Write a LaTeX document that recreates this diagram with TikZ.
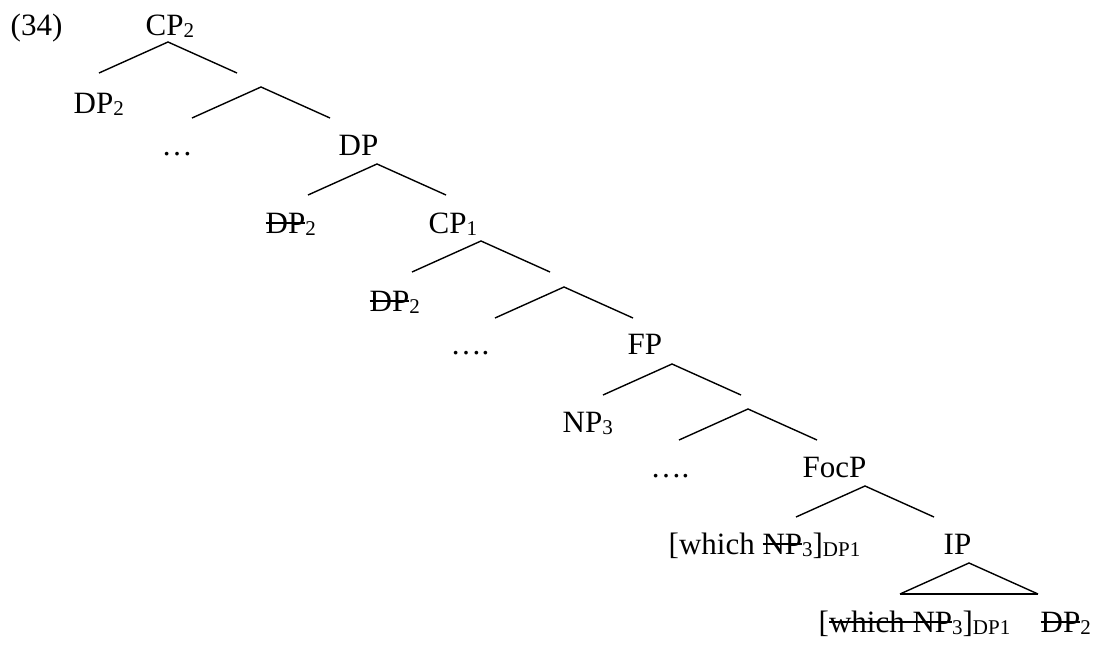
\documentclass[tikz,border=0pt]{standalone}
\usepackage{fontspec}
\setmainfont{Liberation Serif}
\usepackage{tikz}
\newsavebox\strkbox
\newcommand\strk[1]{\sbox\strkbox{#1}\rlap{\rule[0.3em]{\wd\strkbox}{0.045em}}\usebox\strkbox}
\newcommand\lowidx[1]{\raisebox{-0.09em}{\fontsize{21}{21}\selectfont #1}}

\begin{document}
\begin{tikzpicture}[x=1pt,y=-1pt,line width=1.4pt,
  every node/.style={inner sep=0pt,anchor=base west,font=\fontsize{31}{37}\selectfont}]
\useasboundingbox (0,0) rectangle (1094,645);
\node (ex) at (10,35) {(34)};
\node (cp2) at (145,35) {CP\lowidx{2}};
\node (dp2a) at (73,113) {DP\lowidx{2}};
\node (dots1) at (161,155) {…};
\node (dp) at (338,155) {DP};
\node (dp2b) at (265,233) {\strk{DP}\lowidx{2}};
\node (cp1) at (428,233) {CP\lowidx{1}};
\node (dp2c) at (369,311) {\strk{DP}\lowidx{2}};
\node (dots2) at (450,354) {….};
\node (fp) at (627,354) {FP};
\node (np3) at (562,432) {NP\lowidx{3}};
\node (dots3) at (650,477) {….};
\node (focp) at (802,477) {FocP};
\node (which) at (668,554) {[which \strk{NP}\lowidx{3}]\lowidx{DP1}};
\node (ip) at (943,554) {IP};
\node (whichb) at (818,632) {[\strk{which NP}\lowidx{3}]\lowidx{DP1}};
\node (dp2d) at (1040,632) {\strk{DP}\lowidx{2}};
\foreach \n/\px/\py in {1/168/42,2/261/87,3/377/164,4/481/241,5/564/287,
                        6/672/364,7/748/409,8/865/486,9/969/563}{
  \coordinate (v\n) at (\px,\py);
  \coordinate (v\n-l) at (\px-69,\py+31);
  \coordinate (v\n-r) at (\px+69,\py+31);
  \draw (v\n-l) -- (v\n) -- (v\n-r);
}
\draw (v9-l) -- (v9-r);
\end{tikzpicture}
\end{document}
